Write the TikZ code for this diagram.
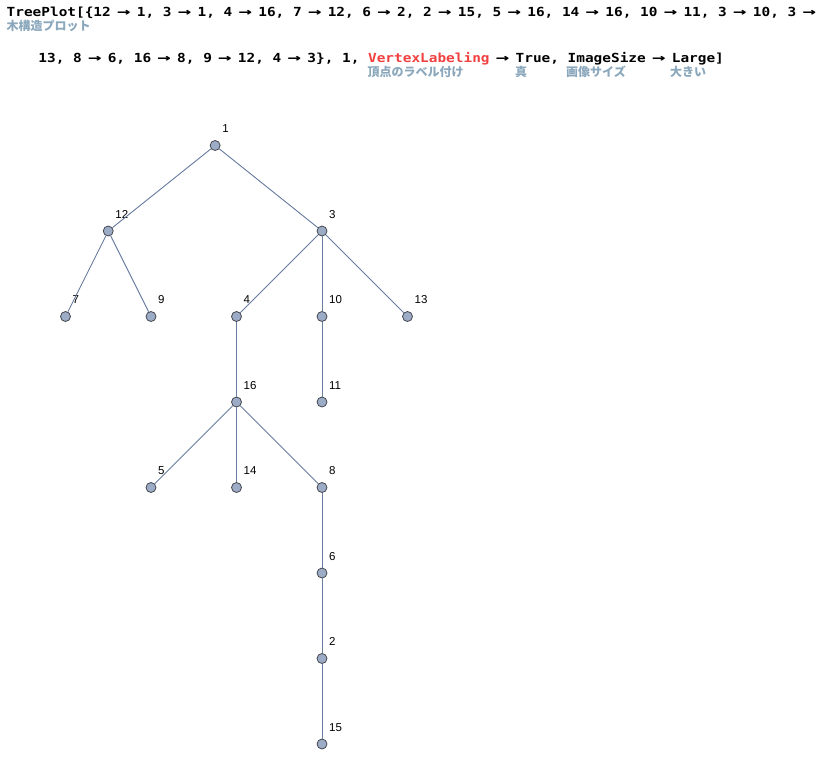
\documentclass[tikz,border=0pt]{standalone}
\usepackage{fontspec}
\usepackage{graphicx}
\setmainfont{Liberation Sans}
\newfontfamily\codefont{DejaVu Sans Mono Bold}[FakeStretch=1.153]
\newfontfamily\cjkfont{Noto Sans CJK JP}
\definecolor{annot}{RGB}{138,167,188}
\definecolor{optred}{RGB}{240,64,64}
\definecolor{vfill}{RGB}{156,171,198}
\definecolor{vline}{RGB}{70,72,80}
\definecolor{ecol}{RGB}{105,125,160}
\begin{document}
\begin{tikzpicture}[x=1pt,y=-1pt,
	vertex/.style={circle,draw=vline,fill=vfill,line width=0.8pt,minimum size=10pt,inner sep=0pt},
	edge/.style={draw=ecol,line width=0.9pt},
	vlabel/.style={anchor=base west,inner sep=0pt,font=\fontsize{11.5}{13}\selectfont},
	annotation/.style={anchor=base west,inner sep=0pt,text=annot,font=\cjkfont\bfseries\fontsize{12}{14}\selectfont}]
			\newcommand{\mycode}[1]{%
				\codefont\fontsize{12.5}{14}\selectfont{#1}%
			}\newcommand{\myarrow}{%
				\makebox[8.68pt]{\scalebox{1.55}[1.1]{→}}%
			}%Page size
			\useasboundingbox (0,0) rectangle (826,769);
			%The input
			\node [anchor=base west,inner sep=0pt] (line1) at (6.5,16) {\mycode{TreePlot[\{12 \myarrow{} 1, 3 \myarrow{} 1, 4 \myarrow{} 16, 7 \myarrow{} 12, 6 \myarrow{} 2, 2 \myarrow{} 15, 5 \myarrow{} 16, 14 \myarrow{} 16, 10 \myarrow{} 11, 3 \myarrow{} 10, 3 \myarrow}};
			\node [anchor=base west,inner sep=0pt] (line2) at (38.2,62) {\mycode{13, 8 \myarrow{} 6, 16 \myarrow{} 8, 9 \myarrow{} 12, 4 \myarrow{} 3\}, 1, \textcolor{optred}{VertexLabeling} \myarrow{} True, ImageSize \myarrow{} Large]}};
			%Annotations under the words
			\node [annotation] (jTreePlot) at (6.4,30.6) {木構造プロット};
			\node [annotation] (jVertexLabeling) at (367.4,76.6) {頂点のラベル付け};
			\node [annotation] (jTrue) at (515,76.6) {真};
			\node [annotation] (jImageSize) at (566,76.6) {画像サイズ};
			\node [annotation] (jLarge) at (670,76.6) {大きい};
			%Vertices: name/column/level
			\foreach \n/\c/\r in {1/1.75/0, 12/0.5/1, 3/3/1, 7/0/2, 9/1/2, 4/2/2, 10/3/2, 13/4/2, 16/2/3, 11/3/3, 5/1/4, 14/2/4, 8/3/4, 6/3/5, 2/3/6, 15/3/7} {
				\coordinate (c\n) at ({65.5+85.5*\c},{145.5+85.5*\r});
				\node [vertex] (v\n) at (c\n) {};
				\node [vlabel] (l\n) at ([shift={(7,-13)}]c\n) {\n};
			}
			%Edges
			\foreach \a/\b in {1/12, 1/3, 12/7, 12/9, 3/4, 3/10, 3/13, 4/16, 10/11, 16/5, 16/14, 16/8, 8/6, 6/2, 2/15} {
				\draw [edge] (v\a) -- (v\b);
			}
\end{tikzpicture}
\end{document}
